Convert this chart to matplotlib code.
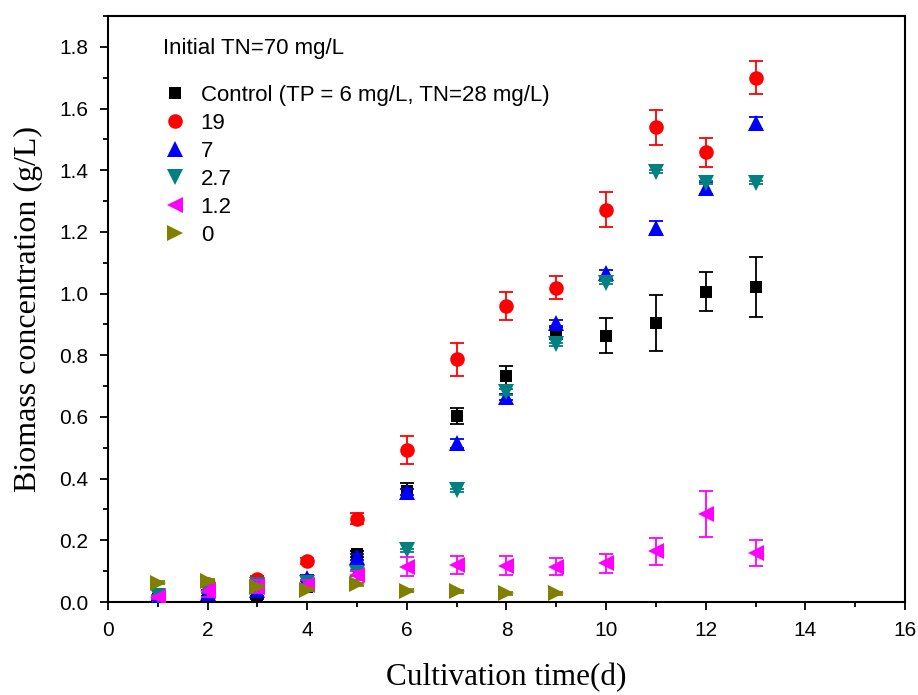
import matplotlib
matplotlib.use('Agg')
import matplotlib.pyplot as plt
from matplotlib.ticker import MultipleLocator

# cultivation time (d)
days = [1, 2, 3, 4, 5, 6, 7, 8, 9, 10, 11, 12, 13]
days_zero = [1, 2, 3, 4, 5, 6, 7, 8, 9]

# biomass (g/L) and error bars
control = [0.010, 0.016, 0.016, 0.050, 0.155, 0.360, 0.604, 0.734, 0.873, 0.864, 0.905, 1.006, 1.022]
control_err = [0.005, 0.005, 0.005, 0.010, 0.010, 0.025, 0.026, 0.030, 0.020, 0.058, 0.090, 0.063, 0.097]
tp19 = [0.012, 0.060, 0.074, 0.133, 0.270, 0.494, 0.787, 0.959, 1.019, 1.272, 1.539, 1.459, 1.700]
tp19_err = [0.005, 0.010, 0.010, 0.010, 0.018, 0.045, 0.053, 0.046, 0.037, 0.057, 0.057, 0.047, 0.053]
tp7 = [0.010, 0.030, 0.040, 0.077, 0.145, 0.358, 0.515, 0.666, 0.905, 1.067, 1.214, 1.342, 1.553]
tp7_err = [0.005, 0.010, 0.010, 0.010, 0.010, 0.010, 0.015, 0.010, 0.010, 0.010, 0.020, 0.020, 0.020]
tp27 = [0.018, 0.040, 0.055, 0.062, 0.093, 0.168, 0.362, 0.680, 0.835, 1.035, 1.395, 1.360, 1.360]
tp27_err = [0.005, 0.010, 0.010, 0.010, 0.010, 0.005, 0.005, 0.010, 0.005, 0.005, 0.005, 0.005, 0.005]
tp12 = [0.015, 0.035, 0.050, 0.055, 0.086, 0.115, 0.120, 0.118, 0.115, 0.125, 0.165, 0.285, 0.158]
tp12_err = [0.005, 0.020, 0.020, 0.015, 0.015, 0.030, 0.030, 0.030, 0.028, 0.032, 0.044, 0.075, 0.042]
tp0 = [0.062, 0.068, 0.050, 0.040, 0.058, 0.037, 0.035, 0.028, 0.028]
tp0_err = [0.005, 0.005, 0.005, 0.005, 0.005, 0.005, 0.005, 0.005, 0.005]

labels = ['Control (TP = 6 mg/L, TN=28 mg/L)', '19', '7', '2.7', '1.2', '0']

series = [
    (days, control, control_err, 's', 'black', 9),
    (days, tp19, tp19_err, 'o', '#ff0000', 10.5),
    (days, tp7, tp7_err, '^', '#0000ff', 12),
    (days, tp27, tp27_err, 'v', '#008080', 12),
    (days, tp12, tp12_err, '<', '#ff00ff', 12),
    (days_zero, tp0, tp0_err, '>', '#808000', 12),
]

plt.rcParams['font.family'] = ['Liberation Sans', 'DejaVu Sans']

fig = plt.figure(figsize=(9.18, 6.95), dpi=100, facecolor='w')
ax = fig.add_axes([0.1176, 0.1338, 0.8682, 0.8432])

z = 3
for (x, y, e, m, c, ms), lab in zip(series, labels):
    ax.errorbar(x, y, yerr=e, fmt='none', ecolor=c, elinewidth=1.3, capsize=5,
                capthick=1.3, zorder=z)
    ax.plot(x, y, ls='none', marker=m, color=c, ms=ms, mew=0, label=lab, zorder=z + 0.5)
    z += 1

ax.set_xlim(0, 16)
ax.set_ylim(0, 1.9)
ax.xaxis.set_major_locator(MultipleLocator(2))
ax.xaxis.set_minor_locator(MultipleLocator(1))
ax.yaxis.set_major_locator(MultipleLocator(0.2))
ax.yaxis.set_minor_locator(MultipleLocator(0.1))
ax.yaxis.set_major_formatter(matplotlib.ticker.FormatStrFormatter('%.1f'))
ax.tick_params(which='major', direction='out', length=6, width=1.3, labelsize=15, pad=8)
ax.tick_params(which='minor', direction='out', length=3.5, width=1.3)
for spine in ('top', 'right', 'bottom', 'left'):
    ax.spines[spine].set_linewidth(1.5)

ax.set_xlabel('Cultivation time(d)', family='Liberation Serif', fontsize=22.5, labelpad=16)
ax.set_ylabel('Biomass concentration (g/L)', family='Liberation Serif', fontsize=23, labelpad=12)

ax.text(0.069, 0.944, 'Initial TN=70 mg/L', transform=ax.transAxes, fontsize=16,
        va='center', ha='left')
leg = ax.legend(loc='upper left', bbox_to_anchor=(0.062, 0.898), frameon=False,
                fontsize=16, handletextpad=0.75, labelspacing=0.32, handlelength=0.8,
                borderaxespad=0, markerscale=1.0)

fig.savefig('out.png', dpi=100)
